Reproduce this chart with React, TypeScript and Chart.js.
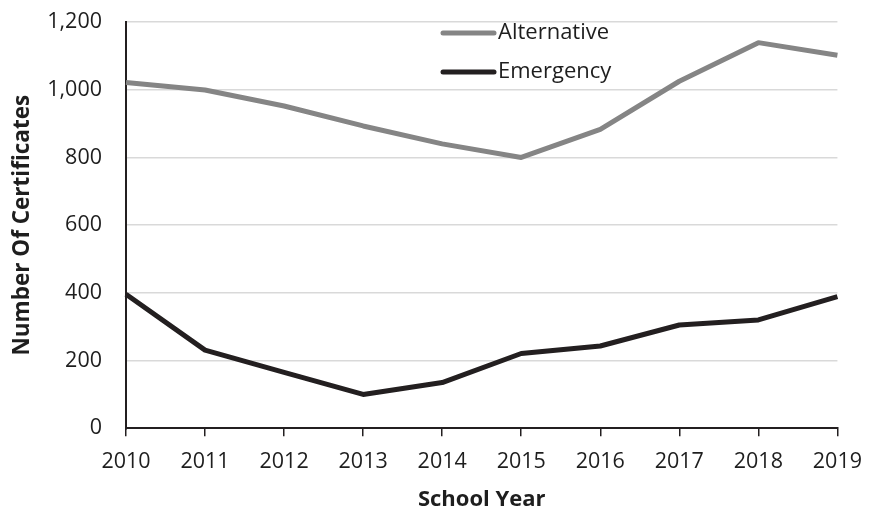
import React, { useEffect, useRef } from "react";
import { Chart, registerables } from "chart.js";

Chart.register(...registerables);

const years = ["2010", "2011", "2012", "2013", "2014", "2015", "2016", "2017", "2018", "2019"];
const alternative = [1021, 999, 952, 893, 840, 800, 883, 1025, 1139, 1102];
const emergency = [396, 231, 165, 100, 135, 221, 243, 305, 320, 389];
const seriesNames = ["Alternative", "Emergency"];
const seriesColors = ["#858585", "#231f20"];
const yTicks = { min: 0, max: 1200, step: 200 };

const FONT = "'Open Sans', 'DejaVu Sans', sans-serif";
const TEXT = "#1e1e1e";

const legendPlugin = {
  id: "innerLegend",
  afterDraw(chart: any) {
    const ctx = chart.ctx;
    const rows = [33, 72];
    ctx.save();
    chart.data.datasets.forEach((ds: any, i: number) => {
      const y = rows[i];
      ctx.strokeStyle = ds.borderColor;
      ctx.lineWidth = 5;
      ctx.lineCap = "round";
      ctx.beginPath();
      ctx.moveTo(443, y);
      ctx.lineTo(494, y);
      ctx.stroke();
      ctx.fillStyle = TEXT;
      ctx.font = `22px ${FONT}`;
      ctx.textBaseline = "middle";
      ctx.textAlign = "left";
      ctx.fillText(ds.label, 498, y);
    });
    ctx.restore();
  },
};

export default function App() {
  const ref = useRef<HTMLCanvasElement>(null);
  useEffect(() => {
    if (!ref.current) return;
    const chart = new Chart(ref.current, {
      type: "line",
      data: {
        labels: years,
        datasets: [
          {
            label: seriesNames[0],
            data: alternative,
            borderColor: seriesColors[0],
            backgroundColor: seriesColors[0],
            borderWidth: 5,
            pointRadius: 0,
            tension: 0,
            borderJoinStyle: "round",
          },
          {
            label: seriesNames[1],
            data: emergency,
            borderColor: seriesColors[1],
            backgroundColor: seriesColors[1],
            borderWidth: 5,
            pointRadius: 0,
            tension: 0,
            borderJoinStyle: "round",
          },
        ],
      },
      options: {
        responsive: false,
        animation: false,
        layout: { padding: { left: 0, top: 22, right: 34.3, bottom: 0 } },
        plugins: {
          legend: { display: false },
          tooltip: { enabled: false },
        },
        scales: {
          x: {
            type: "category",
            offset: false,
            afterFit: (s: any) => {
              s.height = 84.7;
            },
            grid: {
              drawOnChartArea: false,
              drawTicks: true,
              tickLength: 8,
              color: "#231f20",
              lineWidth: 1.5,
            },
            border: { color: "#231f20", width: 2 },
            ticks: {
              font: { family: FONT, size: 21.5 },
              color: TEXT,
              padding: 13,
              maxRotation: 0,
            },
            title: {
              display: true,
              text: "School Year",
              font: { family: FONT, size: 22, weight: "bold" },
              color: TEXT,
              padding: { top: 0, bottom: 0 },
            },
          },
          y: {
            min: yTicks.min,
            max: yTicks.max,
            afterFit: (s: any) => {
              s.width = 126;
            },
            grid: {
              drawTicks: true,
              tickLength: 20,
              tickColor: "rgba(0,0,0,0)",
              color: (c: any) => (c.tick && c.tick.value === 0 ? "rgba(0,0,0,0)" : "#d9d9d9"),
              lineWidth: 1.5,
            },
            border: { color: "#231f20", width: 2 },
            ticks: {
              stepSize: yTicks.step,
              font: { family: FONT, size: 21.5 },
              color: TEXT,
              padding: 4,
            },
            title: {
              display: true,
              text: "Number Of Certificates",
              font: { family: FONT, size: 22.5, weight: "bold" },
              color: TEXT,
              padding: { top: 9, bottom: 0 },
            },
          },
        },
      },
      plugins: [legendPlugin],
    });
    return () => chart.destroy();
  }, []);
  return (
    <div style={{ position: "fixed", left: 0, top: 0, width: 875, height: 513, background: "#fff" }}>
      <canvas ref={ref} width={875} height={513} style={{ width: 875, height: 513 }} />
    </div>
  );
}
